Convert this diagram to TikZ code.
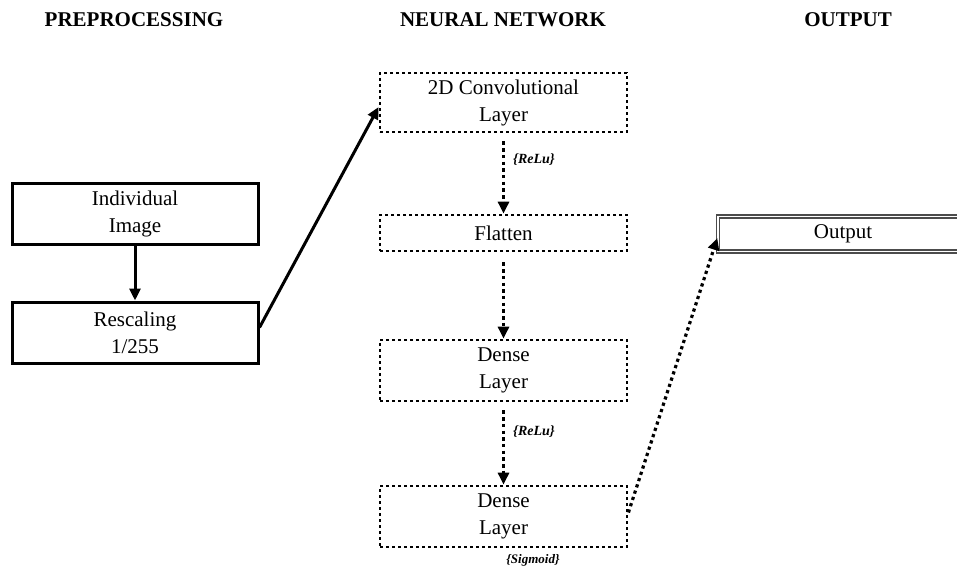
\documentclass[tikz,border=0pt]{standalone}
\usepackage{fontspec}
\setmainfont{Liberation Serif}
\usetikzlibrary{arrows.meta}
\begin{document}
\begin{tikzpicture}[x=1pt,y=-1pt,
  title/.style={font=\fontsize{21}{24}\selectfont\bfseries, inner sep=0pt},
  boxtext/.style={align=center, inner sep=0pt, font=\fontsize{21}{27}\selectfont},
  solidbox/.style={boxtext, draw, line width=3pt, minimum width=246pt, minimum height=61pt},
  dotbox/.style={boxtext, draw, line width=2.8pt, dash pattern=on 2.8pt off 3.2pt, minimum width=247pt},
  outbox/.style={boxtext, draw=gray!60!black, line width=1.4pt, double=white, double distance=1.4pt, minimum width=250pt, minimum height=35pt},
  actlabel/.style={font=\fontsize{14}{16}\selectfont\bfseries\itshape, inner sep=0pt, anchor=west},
  solidarrow/.style={line width=3pt, -{Triangle[length=12pt,width=11pt]}},
  dotarrow/.style={line width=3.5pt, dash pattern=on 3.5pt off 3.2pt, -{Triangle[length=12pt,width=11pt]}}
]
\useasboundingbox (0,0) rectangle (957,567);
\clip (0,0) rectangle (957,567);
\fill[white] (0,0) rectangle (957,567);

% titles
\node[title] (t1) at (134,20) {PREPROCESSING};
\node[title] (t2) at (503,20) {NEURAL NETWORK};
\node[title] (t3) at (848,20) {OUTPUT};

% preprocessing
\node[solidbox] (ind) at (135,214) {Individual\\Image};
\node[solidbox] (res) at (135,332.5) {Rescaling\\1/255};

% neural network
\node[dotbox, minimum height=59pt] (conv) at (503.5,102.5) {2D Convolutional\\Layer};
\node[dotbox, minimum height=36pt] (flat) at (503.5,233) {Flatten};
\node[dotbox, minimum height=61pt] (d1) at (503.5,370.5) {Dense\\Layer};
\node[dotbox, minimum height=61pt] (d2) at (503.5,516.5) {Dense\\Layer};

% output
\node[outbox] (out) at (843,234) {Output};

% labels
\node[actlabel] (l1) at (513,160) {\{ReLu\}};
\node[actlabel] (l2) at (513,432) {\{ReLu\}};
\node[actlabel, font=\fontsize{13}{15}\selectfont\bfseries\itshape, anchor=center] (l3) at (533,560) {\{Sigmoid\}};

% connectors
\draw[solidarrow] (ind.south) -- (res.north);
\draw[solidarrow] ([yshift=5pt]res.east) -- ([yshift=-4.5pt]conv.west);
\draw[dotarrow, shorten <=8pt] (conv.south) -- (flat.north);
\draw[dotarrow, shorten <=10pt] (flat.south) -- (d1.north);
\draw[dotarrow, shorten <=8pt] (d1.south) -- (d2.north);
\draw[dotarrow, line width=3.2pt, dash pattern=on 3.2pt off 3.4pt] ([yshift=4pt]d2.east) -- ([yshift=-4pt]out.west);
\end{tikzpicture}
\end{document}
